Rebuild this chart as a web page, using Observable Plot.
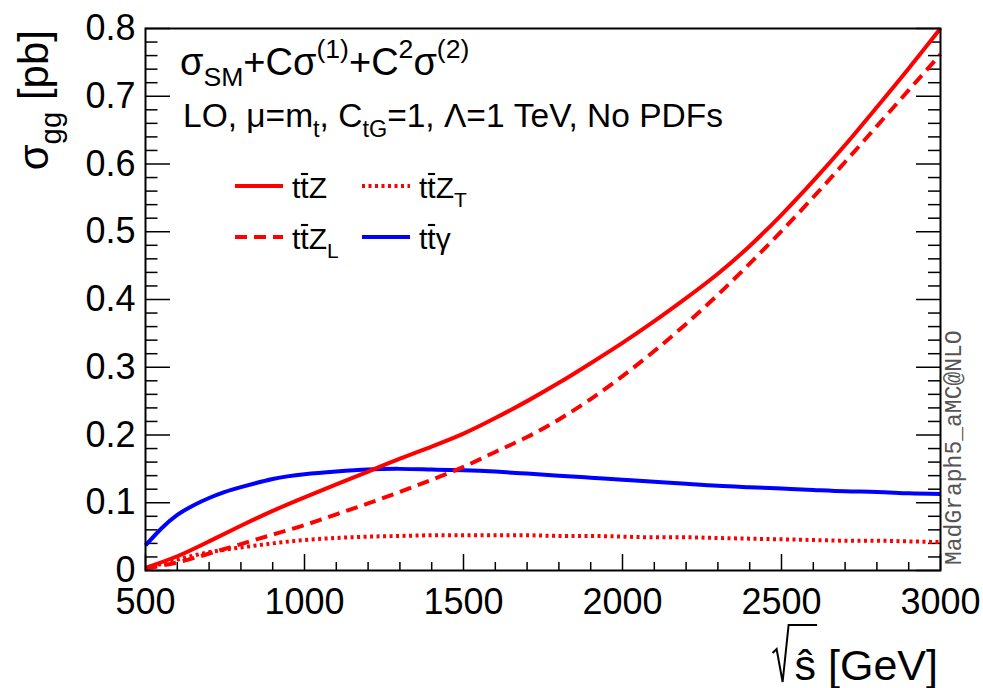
<!DOCTYPE html>
<html>
<head>
<meta charset="utf-8">
<script src="https://cdn.jsdelivr.net/npm/d3@7"></script>
<script src="https://cdn.jsdelivr.net/npm/@observablehq/plot@0.6"></script>
<style>
  html, body { margin: 0; padding: 0; background: #fff; }
  #chart svg { display: block; }
</style>
</head>
<body>
<div id="chart"></div>
<script>
// Partonic gg cross sections (pb) versus sqrt(s-hat) (GeV)
const energy = [500, 600, 700, 800, 900, 1000, 1100, 1200, 1300, 1400, 1500, 1600, 1700,
                1800, 1900, 2000, 2100, 2200, 2300, 2400, 2500, 2600, 2700, 2800, 2900, 3000];
const sigmaTTZ  = [0.004, 0.021, 0.043, 0.066, 0.088, 0.108, 0.127, 0.146, 0.165, 0.183, 0.202, 0.225, 0.250,
                   0.277, 0.306, 0.336, 0.368, 0.402, 0.438, 0.479, 0.525, 0.575, 0.628, 0.684, 0.741, 0.800];
const sigmaTTZL = [0.003, 0.012, 0.025, 0.039, 0.053, 0.067, 0.083, 0.099, 0.116, 0.134, 0.153, 0.175, 0.197,
                   0.223, 0.253, 0.287, 0.324, 0.364, 0.407, 0.453, 0.501, 0.551, 0.603, 0.656, 0.709, 0.762];
const sigmaTTZT = [0.003, 0.016, 0.027, 0.034, 0.040, 0.045, 0.048, 0.050, 0.051, 0.052, 0.052, 0.052, 0.052,
                   0.051, 0.051, 0.050, 0.049, 0.049, 0.048, 0.047, 0.046, 0.045, 0.044, 0.044, 0.043, 0.042];
// the photon curve rises steeply at threshold, so it is sampled more finely there
const energyTTA = [500, 550, 600, 650, 700, 750, 800, 900, 1000, 1100, 1200, 1300, 1400, 1500, 1600, 1700,
                   1800, 1900, 2000, 2100, 2200, 2300, 2400, 2500, 2600, 2700, 2800, 2900, 3000];
const sigmaTTA  = [0.037, 0.062, 0.082, 0.096, 0.107, 0.116, 0.123, 0.135, 0.142, 0.146, 0.149, 0.150, 0.149,
                   0.148, 0.146, 0.143, 0.140, 0.137, 0.134, 0.131, 0.128, 0.125, 0.123, 0.121, 0.119, 0.117,
                   0.116, 0.114, 0.113];

const xTicks = [500, 1000, 1500, 2000, 2500, 3000];
const yTicks = [0, 0.1, 0.2, 0.3, 0.4, 0.5, 0.6, 0.7, 0.8];

const W = 983, H = 688;
const mL = 145, mR = 43, mT = 28, mB = 118;
const plotW = W - mL - mR, plotH = H - mT - mB;

const RED = "#ff0000", BLUE = "#0000ff";
const DASH = "12,7", DOT = "3,3.5";

const series = (xs, vals) => xs.map((e, i) => ({e, v: vals[i]}));

const xMinor = d3.range(600, 3000, 100).filter(d => d % 500 !== 0);
const yMinor = d3.range(1, 40).filter(i => i % 5 !== 0).map(i => i * 0.02);

const lineStyle = {x: "e", y: "v", strokeWidth: 4, strokeLinecap: "butt", curve: "natural"};

const chart = Plot.plot({
  width: W, height: H,
  marginLeft: mL, marginRight: mR, marginTop: mT, marginBottom: mB,
  x: {domain: [500, 3000]},
  y: {domain: [0, 0.8]},
  style: {fontFamily: "'Liberation Sans', Arial, sans-serif", fontSize: "36px", background: "#fff", color: "#000"},
  marks: [
    // inward ticks: left, right and bottom edges
    Plot.tickY(yTicks, {y: d => d, insetRight: plotW - 25, stroke: "#000", strokeWidth: 1.5}),
    Plot.tickY(yMinor, {y: d => d, insetRight: plotW - 12.5, stroke: "#000", strokeWidth: 1.5}),
    Plot.tickY(yTicks, {y: d => d, insetLeft: plotW - 24, stroke: "#000", strokeWidth: 1.5}),
    Plot.tickY(yMinor, {y: d => d, insetLeft: plotW - 12, stroke: "#000", strokeWidth: 1.5}),
    Plot.tickX(xTicks, {x: d => d, insetTop: plotH - 16, stroke: "#000", strokeWidth: 1.5}),
    Plot.tickX(xMinor, {x: d => d, insetTop: plotH - 8, stroke: "#000", strokeWidth: 1.5}),
    Plot.axisY({ticks: yTicks, tickSize: 0, tickPadding: 10, label: null,
                tickFormat: d => d === 0 ? "0" : d.toFixed(1), fontSize: 36}),
    Plot.axisX({ticks: xTicks, tickSize: 0, tickPadding: 18, label: null,
                tickFormat: d => String(d), fontSize: 36}),
    // curves
    Plot.line(series(energyTTA, sigmaTTA), {...lineStyle, stroke: BLUE}),
    Plot.line(series(energy, sigmaTTZT), {...lineStyle, stroke: RED, strokeDasharray: DOT}),
    Plot.line(series(energy, sigmaTTZL), {...lineStyle, stroke: RED, strokeDasharray: DASH}),
    Plot.line(series(energy, sigmaTTZ),  {...lineStyle, stroke: RED}),
    Plot.frame({stroke: "#000", strokeWidth: 2})
  ]
});

document.getElementById("chart").appendChild(chart);

// Rich text with sub/superscripts and overbars
const svg = d3.select(chart);
const FONT = "'Liberation Sans', Arial, sans-serif";
function richText(parent, x, y, size, parts, attrs = {}) {
  const t = parent.append("text")
    .attr("x", x).attr("y", y)
    .attr("font-family", FONT)
    .attr("font-size", size)
    .attr("text-anchor", "start")
    .attr("fill", "#000");
  for (const [k, v] of Object.entries(attrs)) t.attr(k, v);
  let shift = 0, idx = 0;
  const bars = [];
  for (const p of parts) {
    const s = typeof p === "string" ? {t: p} : p;
    let target = 0, fs = size;
    if (s.sub) { target = 0.3 * size; fs = 0.7 * size; }
    if (s.sup) { target = -0.45 * size; fs = 0.7 * size; }
    const ts = t.append("tspan").attr("font-size", fs).text(s.t);
    if (target !== shift) { ts.attr("dy", target - shift); shift = target; }
    if (s.over) bars.push(idx);
    idx += s.t.length;
  }
  // overbars drawn just above the cap height of the barred character
  const node = t.node();
  for (const i of bars) {
    const a = node.getStartPositionOfChar(i), b = node.getEndPositionOfChar(i);
    parent.append("line")
      .attr("x1", a.x + 0.02 * size).attr("x2", b.x - 0.02 * size)
      .attr("y1", a.y - 0.8 * size).attr("y2", a.y - 0.8 * size)
      .attr("stroke", "#000").attr("stroke-width", 0.07 * size);
  }
  return t;
}

const g = svg.append("g");

richText(g, 180, 75, 38, [
  "σ", {t: "SM", sub: true}, "+Cσ", {t: "(1)", sup: true}, "+C", {t: "2", sup: true}, "σ", {t: "(2)", sup: true}
]);
richText(g, 183, 127, 33.5, [
  "LO, μ=m", {t: "t", sub: true}, ", C", {t: "tG", sub: true}, "=1, Λ=1 TeV, No PDFs"
]);

// legend
const legend = [
  {x: 235, y: 186, dash: null, color: RED,  parts: ["t", {t: "t", over: true}, "Z"]},
  {x: 362, y: 186, dash: DOT,  color: RED,  parts: ["t", {t: "t", over: true}, "Z", {t: "T", sub: true}]},
  {x: 235, y: 237, dash: DASH, color: RED,  parts: ["t", {t: "t", over: true}, "Z", {t: "L", sub: true}]},
  {x: 362, y: 237, dash: null, color: BLUE, parts: ["t", {t: "t", over: true}, "γ"]}
];
for (const L of legend) {
  const ln = g.append("line")
    .attr("x1", L.x).attr("x2", L.x + 48)
    .attr("y1", L.y).attr("y2", L.y)
    .attr("stroke", L.color).attr("stroke-width", 4);
  if (L.dash) ln.attr("stroke-dasharray", L.dash);
  richText(g, L.x + 57, L.y + 12, 30, L.parts);
}

// x-axis title with a drawn radical over s-hat
const xt = richText(g, 938, 680, 43, ["ŝ [GeV]"], {"text-anchor": "end"});
{
  const n = xt.node();
  const a = n.getStartPositionOfChar(0), b = n.getEndPositionOfChar(0);
  const sx = a.x, ex = b.x, by = a.y;
  g.append("path")
    .attr("d", `M${sx - 22},${by - 27} L${sx - 18},${by - 31} L${sx - 12},${by + 2} L${sx - 6},${by - 55} L${ex + 1},${by - 55}`)
    .attr("fill", "none").attr("stroke", "#000").attr("stroke-width", 2);
}
// y-axis title
richText(g, 0, 0, 42, ["σ", {t: "gg", sub: true}, " [pb]"],
  {"text-anchor": "end", transform: "translate(48,30) rotate(-90)"});

// generator tag
g.append("text")
  .attr("transform", "translate(961,565) rotate(-90)")
  .attr("font-family", "'Liberation Mono', 'Courier New', monospace")
  .attr("font-size", 23)
  .attr("text-anchor", "start")
  .attr("fill", "#555")
  .text("MadGraph5_aMC@NLO");
</script>
</body>
</html>
